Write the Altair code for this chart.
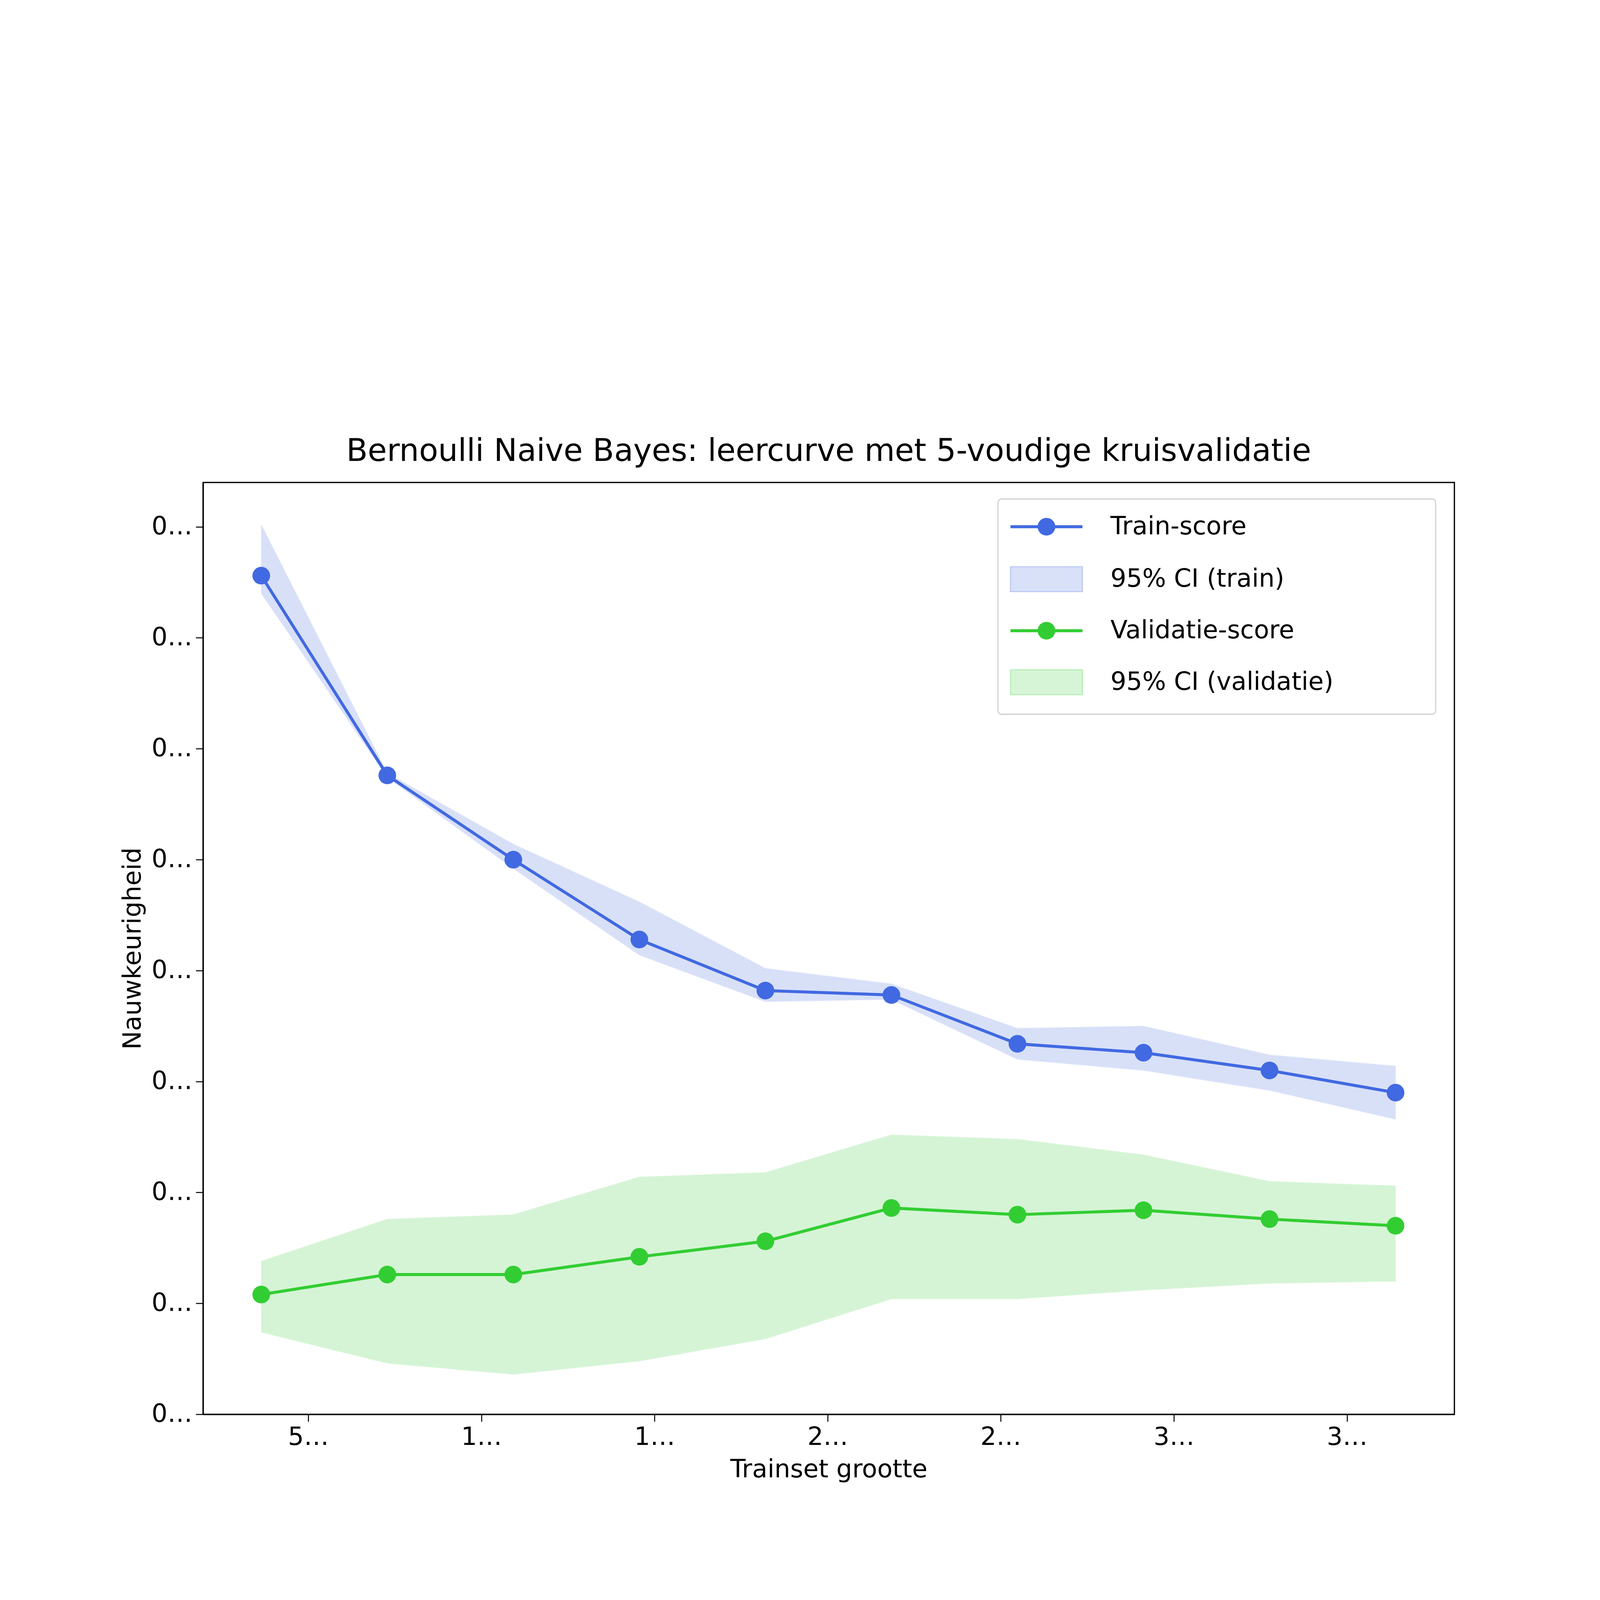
import altair as alt
import pandas as pd

sizes = [364, 728, 1092, 1456, 1820, 2184, 2548, 2912, 3276, 3640]
train = [0.578, 0.488, 0.450, 0.414, 0.391, 0.389, 0.367, 0.363, 0.355, 0.345]
train_hi = [0.601, 0.489, 0.457, 0.431, 0.401, 0.394, 0.374, 0.375, 0.362, 0.357]
train_lo = [0.570, 0.487, 0.446, 0.407, 0.386, 0.387, 0.360, 0.355, 0.346, 0.333]
val = [0.254, 0.263, 0.263, 0.271, 0.278, 0.293, 0.290, 0.292, 0.288, 0.285]
val_hi = [0.269, 0.288, 0.290, 0.307, 0.309, 0.326, 0.324, 0.317, 0.305, 0.303]
val_lo = [0.237, 0.223, 0.218, 0.224, 0.234, 0.252, 0.252, 0.256, 0.259, 0.260]

BLUE = "#4169e1"
GREEN = "#32cd32"
W, H = 5006, 3728
FS = 100

df = pd.DataFrame({"n": sizes, "train": train, "train_hi": train_hi, "train_lo": train_lo,
                   "val": val, "val_hi": val_hi, "val_lo": val_lo})

xs = alt.Scale(domain=[196, 3810], nice=False, zero=False)
ys = alt.Scale(domain=[0.2, 0.62], nice=False, zero=False)
xax = alt.Axis(values=[500, 1000, 1500, 2000, 2500, 3000, 3500], title="Trainset grootte", grid=False,
               format="d")
yax = alt.Axis(values=[0.2, 0.25, 0.3, 0.35, 0.4, 0.45, 0.5, 0.55, 0.6], format=".2f",
               title="Nauwkeurigheid", grid=False)

base = alt.Chart(df)
X = alt.X("n:Q", scale=xs, axis=xax)


def band(lo, hi, color):
    return base.mark_area(color=color, opacity=0.2, stroke=color, strokeOpacity=0.3, strokeWidth=4).encode(
        x=X, y=alt.Y(f"{lo}:Q", scale=ys, axis=yax), y2=f"{hi}:Q")


def line(col, color):
    return base.mark_line(color=color, strokeWidth=12, point=alt.OverlayMarkDef(
        color=color, filled=True, size=5000, opacity=1)).encode(
        x=X, y=alt.Y(f"{col}:Q", scale=ys, axis=yax))


one = alt.Chart(pd.DataFrame({"a": [0]}))
legend = [
    one.mark_rect(fill="white", stroke="#cccccc", strokeWidth=4, cornerRadius=14).encode(
        x=alt.value(3180), x2=alt.value(4931), y=alt.value(66), y2=alt.value(927)),
]
rows = [("Train-score", BLUE, "line", 177), ("95% CI (train)", BLUE, "band", 387),
        ("Validatie-score", GREEN, "line", 593), ("95% CI (validatie)", GREEN, "band", 799)]
for label, color, kind, yy in rows:
    if kind == "line":
        legend.append(one.mark_rule(color=color, strokeWidth=12).encode(
            x=alt.value(3230), x2=alt.value(3518), y=alt.value(yy)))
        legend.append(one.mark_point(color=color, filled=True, size=5000, opacity=1).encode(
            x=alt.value(3374), y=alt.value(yy)))
    else:
        legend.append(one.mark_rect(fill=color, fillOpacity=0.2, stroke=color, strokeOpacity=0.3,
                                    strokeWidth=4).encode(
            x=alt.value(3230), x2=alt.value(3518), y=alt.value(yy - 50), y2=alt.value(yy + 50)))
    legend.append(one.mark_text(text=label, align="left", baseline="middle", fontSize=FS,
                                font="DejaVu Sans", color="black").encode(
        x=alt.value(3630), y=alt.value(yy)))

chart = alt.layer(
    band("train_lo", "train_hi", BLUE), band("val_lo", "val_hi", GREEN),
    line("train", BLUE), line("val", GREEN), *legend
).properties(
    width=W, height=H,
    background="white",
    title=alt.TitleParams("Bernoulli Naive Bayes: leercurve met 5-voudige kruisvalidatie",
                          fontSize=125, fontWeight="normal", font="DejaVu Sans", anchor="middle",
                          offset=60, color="black"),
    autosize=alt.AutoSizeParams(type="none"),
    padding={"left": 800, "top": 577, "right": 570, "bottom": 460},
).configure_view(stroke="black", strokeWidth=5).configure_axis(
    labelFontSize=FS, titleFontSize=FS, labelFont="DejaVu Sans", titleFont="DejaVu Sans",
    titleFontWeight="normal", labelColor="black", titleColor="black",
    domainColor="black", domainWidth=5, tickColor="black", tickWidth=4, tickSize=29,
    labelPadding=14, titlePadding=30,
)

chart.save("out.html", embed_options={"renderer": "svg", "actions": False})
